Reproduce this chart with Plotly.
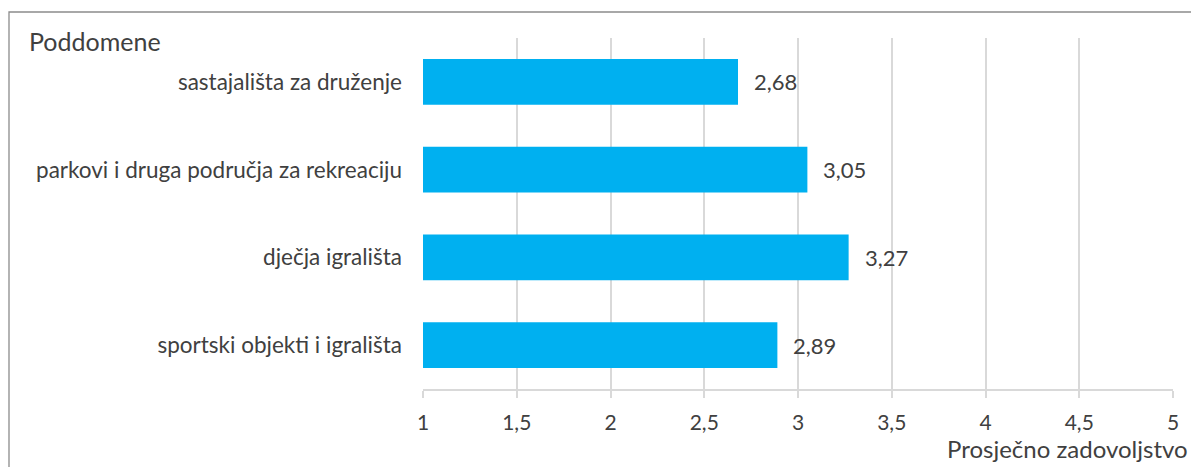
import plotly.graph_objects as go

categories = ["sastajališta za druženje", "parkovi i druga područja za rekreaciju",
              "dječja igrališta", "sportski objekti i igrališta"]
values = [2.68, 3.05, 3.27, 2.89]
labels = ["2,68", "3,05", "3,27", "2,89"]
tick_vals = [1, 1.5, 2, 2.5, 3, 3.5, 4, 4.5, 5]
tick_text = ["1", "1,5", "2", "2,5", "3", "3,5", "4", "4,5", "5"]

FONT = "Lato"
TXT = "#404040"
GRID = "#D9D9D9"

# page body adds an 8px offset; work in reference pixel coords
OFF = 8
W, H = 1199 - OFF, 467 - OFF
L, R, T, B = 423, 1173, 38, 389

def px(x):
    return (x - L) / (R - L)

def py(y):
    return (B - y) / (B - T)

fig = go.Figure()
fig.add_trace(go.Bar(
    y=categories, x=[v - 1 for v in values], base=1, orientation="h",
    marker=dict(color="#00B0F0", line=dict(width=0)),
    width=0.52, hoverinfo="skip",
))

for c, v, t in zip(categories, values, labels):
    fig.add_annotation(x=v, y=c, text=t, showarrow=False, xanchor="left",
                       xshift=14, font=dict(family=FONT, size=22, color=TXT))

fig.add_annotation(xref="paper", yref="paper", x=px(27), y=py(41), text="Poddomene",
                   showarrow=False, xanchor="left", yanchor="middle",
                   font=dict(family=FONT, size=25, color=TXT))
fig.add_annotation(xref="paper", yref="paper", x=px(1190), y=py(448),
                   text="Prosječno zadovoljstvo", showarrow=False,
                   xanchor="right", yanchor="middle",
                   font=dict(family=FONT, size=24, color=TXT))

fig.add_shape(type="rect", xref="paper", yref="paper",
              x0=px(9), x1=px(1215), y0=py(490), y1=py(12),
              line=dict(color="#8C8C8C", width=1.3), layer="below")

fig.update_layout(
    width=W, height=H,
    margin=dict(l=L - OFF, r=W - (R - OFF), t=T - OFF, b=H - (B - OFF), autoexpand=False),
    plot_bgcolor="white", paper_bgcolor="white",
    separators=",.",
    showlegend=False,
    xaxis=dict(range=[1, 5], tickvals=tick_vals, ticktext=tick_text,
               showgrid=True, gridcolor=GRID, gridwidth=1.6,
               showline=True, linecolor=GRID, linewidth=1.6,
               ticks="outside", ticklen=7, tickcolor=GRID, tickwidth=1.6,
               ticklabelstandoff=7,
               tickfont=dict(family=FONT, size=21, color=TXT), zeroline=False),
    yaxis=dict(categoryorder="array", categoryarray=categories[::-1],
               showgrid=False, showline=False, ticks="", ticklabelstandoff=20,
               tickfont=dict(family=FONT, size=22.5, color=TXT)),
)

fig.write_html("out.html")
